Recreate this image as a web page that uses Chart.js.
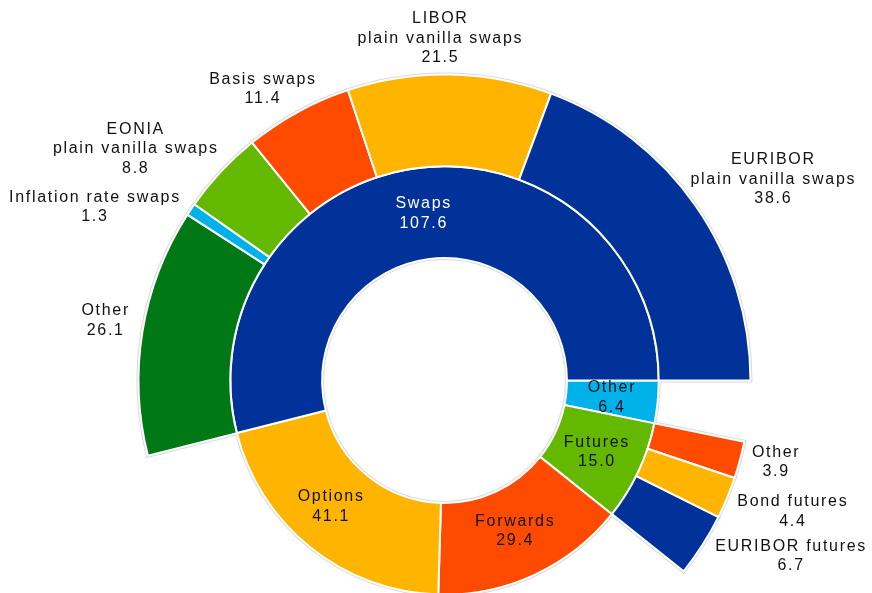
<!DOCTYPE html>
<html>
<head>
<meta charset="utf-8">
<script src="https://cdn.jsdelivr.net/npm/chart.js@4.4.1/dist/chart.umd.min.js"></script>
<style>
  html, body { margin: 0; padding: 0; background: #fff; }
  body { width: 872px; height: 593px; overflow: hidden; }
  #wrap { width: 872px; height: 761px; }
</style>
</head>
<body>
<div id="wrap"><canvas id="breakdown" width="872" height="761"></canvas></div>
<script>
// Inner ring: market segments (counter-clockwise from 3 o'clock)
var segmentLabels = ["Swaps", "Options", "Forwards", "Futures", "Other"];
var segmentValues = [107.6, 41.1, 29.4, 15.0, 6.4];

// Outer ring: breakdown of swaps
var swapLabels = [
  "EURIBOR\nplain vanilla swaps",
  "LIBOR\nplain vanilla swaps",
  "Basis swaps",
  "EONIA\nplain vanilla swaps",
  "Inflation rate swaps",
  "Other"
];
var swapValues = [38.6, 21.5, 11.4, 8.8, 1.3, 26.1];

// Outer ring: breakdown of futures
var futuresLabels = ["EURIBOR futures", "Bond futures", "Other"];
var futuresValues = [6.7, 4.4, 3.9];

// Colours
const BLUE = "#003299", YELLOW = "#ffb400", RED = "#ff4b00",
      GREEN = "#65b800", CYAN = "#00b1ea", DARK_GREEN = "#007816";
var segmentColors = [BLUE, YELLOW, RED, GREEN, CYAN];
var swapColors = [BLUE, YELLOW, RED, GREEN, CYAN, DARK_GREEN];
var futuresColors = [BLUE, YELLOW, RED];

// Small hand adjustments of label placement (px)
var segmentNudge = [[0, 0], [-8, -5], [0, -2], [0, 0], [0, 0]];
var swapNudge = [[3, -5], [-11, 1], [-5, 1], [-19, 3], [-18, 13], [-5, -6]];
var futuresNudge = [[18, -4], [7, 3], [5, -5]];

const LINE = 19.5;
const FONT = '16px "Liberation Sans", Arial, sans-serif';

// Build rings, then flip to clockwise order for Chart.js
function buildInner() {
  return segmentLabels.map((name, i) => ({
    name: name, value: segmentValues[i], color: segmentColors[i], nudge: segmentNudge[i]
  })).reverse();
}

function buildOuter() {
  var out = [];
  segmentLabels.forEach((seg, i) => {
    if (seg === "Swaps") {
      swapLabels.forEach((name, j) => out.push({
        name: name, value: swapValues[j], color: swapColors[j], nudge: swapNudge[j]
      }));
    } else if (seg === "Futures") {
      futuresLabels.forEach((name, j) => out.push({
        name: name, value: futuresValues[j], color: futuresColors[j], nudge: futuresNudge[j]
      }));
    } else {
      // empty gap in the outer ring
      out.push({ name: null, value: segmentValues[i], color: "rgba(0,0,0,0)", nudge: [0, 0] });
    }
  });
  return out.reverse();
}

function toDataset(items, outside) {
  return {
    data: items.map(d => d.value),
    backgroundColor: items.map(d => d.color),
    borderColor: items.map(d => d.name ? "#ffffff" : "rgba(0,0,0,0)"),
    borderWidth: 2,
    names: items.map(d => d.name),
    nudges: items.map(d => d.nudge),
    labelsOutside: outside
  };
}

var outerItems = buildOuter();
var innerItems = buildInner();

// faint grey rim round every filled slice
var sliceRim = {
  id: "sliceRim",
  beforeDatasetsDraw(chart) {
    var ctx = chart.ctx;
    ctx.save();
    ctx.strokeStyle = "#dadada";
    ctx.lineWidth = 4;
    chart.data.datasets.forEach((ds, di) => {
      chart.getDatasetMeta(di).data.forEach((arc, i) => {
        if (!ds.names[i]) return;
        var p = arc.getProps(["x", "y", "startAngle", "endAngle", "innerRadius", "outerRadius"], true);
        ctx.beginPath();
        ctx.arc(p.x, p.y, p.outerRadius, p.startAngle, p.endAngle);
        ctx.arc(p.x, p.y, p.innerRadius, p.endAngle, p.startAngle, true);
        ctx.closePath();
        ctx.stroke();
      });
    });
    ctx.restore();
  }
};

// category name + value on or beside each slice
var sliceLabels = {
  id: "sliceLabels",
  afterDatasetsDraw(chart) {
    var ctx = chart.ctx;
    ctx.save();
    ctx.font = FONT;
    ctx.letterSpacing = "1.7px";
    ctx.textAlign = "center";
    ctx.textBaseline = "middle";
    chart.data.datasets.forEach((ds, di) => {
      chart.getDatasetMeta(di).data.forEach((arc, i) => {
        var name = ds.names[i];
        if (!name) return;
        var lines = name.split("\n").concat(ds.data[i].toFixed(1));
        var p = arc.getProps(["x", "y", "startAngle", "endAngle", "innerRadius", "outerRadius"], true);
        var mid = (p.startAngle + p.endAngle) / 2;
        var dx = Math.cos(mid), dy = Math.sin(mid);
        var cx, cy;
        if (ds.labelsOutside) {
          var w = Math.max.apply(null, lines.map(l => ctx.measureText(l).width));
          var h = lines.length * LINE;
          cx = p.x + (p.outerRadius + 8) * dx + dx * w / 2;
          cy = p.y + (p.outerRadius + 8) * dy + dy * h / 2;
          ctx.fillStyle = "#111";
        } else {
          var tp = arc.tooltipPosition(true);
          cx = tp.x;
          cy = tp.y;
          ctx.fillStyle = ds.backgroundColor[i] === BLUE ? "#ffffff" : "#111";
        }
        cx += ds.nudges[i][0];
        cy += ds.nudges[i][1];
        lines.forEach((l, k) => {
          ctx.fillText(l, cx, cy - (lines.length - 1) * LINE / 2 + k * LINE);
        });
      });
    });
    ctx.restore();
  }
};

new Chart(document.getElementById("breakdown"), {
  type: "doughnut",
  data: {
    labels: outerItems.map(d => d.name || ""),
    datasets: [toDataset(outerItems, true), toDataset(innerItems, false)]
  },
  options: {
    responsive: false,
    animation: false,
    events: [],
    rotation: 90,
    radius: 306,
    cutout: "40%",
    layout: { padding: { left: 17 } },
    plugins: {
      legend: { display: false },
      tooltip: { enabled: false }
    }
  },
  plugins: [sliceRim, sliceLabels]
});
</script>
</body>
</html>
